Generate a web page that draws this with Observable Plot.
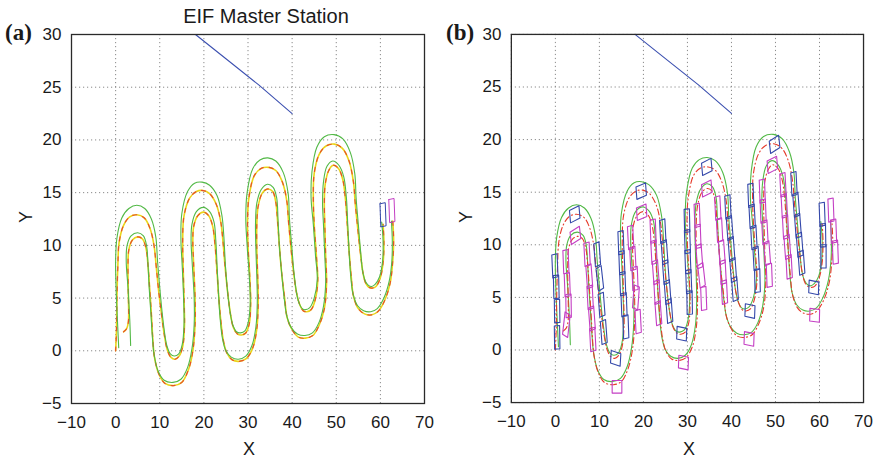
<!DOCTYPE html>
<html><head><meta charset="utf-8">
<script src="https://cdn.jsdelivr.net/npm/d3@7"></script>
<script src="https://cdn.jsdelivr.net/npm/@observablehq/plot@0.6"></script>
<style>
body{margin:0;background:#fff;}
#wrap{position:relative;width:879px;height:461px;overflow:hidden;font-family:"Liberation Sans",Arial,Helvetica,sans-serif;color:#1a1a1a;}
.panel{position:absolute;top:0;}
.txt{position:absolute;white-space:nowrap;line-height:1;}
.tag{font-family:"Liberation Serif","Times New Roman",serif;font-weight:bold;font-size:23px;}
</style></head><body><div id="wrap"></div>
<script>
// ---- tick values ----
const xTicks = [-10, 0, 10, 20, 30, 40, 50, 60, 70];
const yTicks = [-5, 0, 5, 10, 15, 20, 25, 30];

// ---- master station trajectory ----
const masterStation = [[18.1,30],[25,27.7],[32.5,25.2],[40,22.5]];

// ---- reference (desired) paths, green ----
const refPathA = [[0.7,0.3],[0.4,3],[0.1,6],[0,8.5],[0.3,10.7],[1.4,12.6],[3,13.5],[4.8,13.8],[6.6,13.5],[8.1,12.5],[9.1,10.8],[9.5,8.5],[10,6],[10.5,3.8],[11,2],[11.6,0.5],[12.4,-0.3],[13.3,-0.5],[14.3,-0.3],[15.1,0.6],[15.5,2.5],[15.4,5],[15.1,8],[14.8,10.5],[15,13],[16.3,15.1],[17.9,15.9],[19.6,16.0],[21.3,15.7],[23,14.7],[24.1,12.8],[24.5,11],[24.9,8],[25.4,5.5],[26,3.5],[26.6,2.4],[27.4,1.8],[28.3,1.7],[29.3,1.9],[30.1,2.8],[30.5,4.5],[30.3,7],[29.8,10],[29.5,12.5],[29.8,15],[31.1,17.3],[32.7,18.1],[34.5,18.3],[36.3,18],[38,16.9],[39.1,14.9],[39.4,12.5],[39.9,10],[40.4,7.5],[41,5.5],[41.6,4.5],[42.3,4],[43,3.9],[44,4.1],[45,5],[45.7,6.8],[45.3,9],[44.8,12],[44.3,14.5],[44.5,17],[45.6,19.3],[47.3,20.3],[49.5,20.5],[51.5,20.1],[53.2,18.8],[54.2,16.8],[54.5,14.5],[55,12],[55.5,9.5],[56,7.5],[56.6,6.6],[57.3,6.2],[58,6.1],[58.8,6.3],[59.8,7],[60.5,8.5],[60.6,10.5],[60.3,12.2]];
const refPathB = [[3.4,0.5],[3.2,3],[2.8,6],[2.4,8.5],[2.6,10],[3.5,10.9],[5,11.2],[6.3,10.9],[7,10],[7.3,8.5],[7.6,6],[8,3.5],[8.3,1.5],[8.7,-0.3],[9.6,-1.9],[11,-2.8],[13,-3],[14.8,-2.7],[16.3,-1.6],[17.3,0.2],[17.8,2.5],[17.8,5],[17.4,8],[17.1,10.5],[17.3,12],[18.3,13.2],[19.9,13.6],[21.3,13.2],[22.3,12.2],[22.7,10.5],[23,8],[23.3,5.5],[23.7,3],[24.2,1.2],[25,0],[26.2,-0.6],[27.8,-0.8],[29.5,-0.5],[30.9,0.5],[31.8,2.3],[32.1,4.5],[32,7],[31.8,9.5],[31.7,12],[32,14],[33,15.3],[34.4,15.8],[35.7,15.5],[36.5,14.5],[36.8,12.5],[37.1,10],[37.6,7.5],[38.2,5],[38.8,3.3],[39.8,2.2],[41.2,1.6],[42.9,1.45],[44.6,1.7],[46,2.6],[47.1,4.2],[47.6,6.5],[47.4,9],[47.1,12],[46.9,14],[47.1,16],[47.9,17.5],[49.2,18],[50.6,17.6],[51.7,16.5],[52.3,14.5],[52.6,12],[52.9,9.5],[53.3,7],[53.8,5.4],[54.8,4.3],[56.2,3.8],[57.8,3.7],[59.3,4],[60.8,5],[62,6.6],[62.6,8.5],[62.7,10.5],[62.5,12.3]];

// ---- actual trajectories (yellow / red dashed) ----
const actualA = [[0,0],[0.2,2],[0.3,5],[0.5,8],[0.8,10.3],[1.8,11.9],[3.2,12.7],[4.8,12.9],[6.5,12.6],[7.8,11.6],[8.7,10],[9.2,8],[9.8,5.5],[10.4,3.5],[11,1.6],[11.7,0.1],[12.5,-0.6],[13.5,-0.8],[14.4,-0.5],[15.2,0.4],[15.6,2.3],[15.5,5],[15.3,8],[15.2,10.5],[15.5,12.8],[16.8,14.5],[18.3,15.1],[19.8,15.2],[21.3,14.9],[22.8,13.9],[23.8,12.3],[24.3,10.5],[24.8,8],[25.4,5.5],[26.1,3.3],[26.7,2.2],[27.6,1.6],[28.5,1.5],[29.5,1.7],[30.3,2.6],[30.6,4.5],[30.4,7],[30,10],[29.9,12.5],[30.2,14.5],[31.4,16.6],[33,17.3],[34.7,17.4],[36.3,17.1],[37.8,16],[38.8,14.2],[39.2,12.2],[39.8,9.5],[40.4,7.2],[41.1,5.3],[41.8,4.3],[42.5,3.8],[43.3,3.7],[44.3,3.9],[45.2,4.8],[45.8,6.6],[45.5,9],[45,12],[44.8,14.5],[45,16.8],[46.1,18.6],[47.6,19.4],[49.6,19.6],[51.4,19.2],[52.9,18],[53.9,16],[54.3,14],[54.9,11.5],[55.5,9.2],[56.1,7.3],[56.7,6.4],[57.5,6],[58.2,5.95],[59,6.1],[59.9,6.8],[60.6,8.3],[60.8,10.3],[60.6,12]];
const actualB = [[1.8,1.8],[2.5,2.1],[2.9,2.8],[2.9,5],[2.8,8],[3,9.6],[3.8,10.5],[5,10.8],[6.1,10.6],[6.9,9.7],[7.3,8.3],[7.7,6],[8.1,3.5],[8.4,1.3],[8.8,-0.6],[9.8,-2.2],[11.2,-3.1],[13.2,-3.3],[15,-3],[16.5,-1.8],[17.5,0],[18,2.5],[18,5],[17.7,8],[17.5,10.5],[17.7,11.8],[18.6,12.8],[19.9,13.15],[21.1,12.8],[22,11.8],[22.5,10.2],[22.9,8],[23.3,5.5],[23.8,3],[24.4,1],[25.2,-0.2],[26.4,-0.85],[27.9,-1],[29.6,-0.75],[31.1,0.3],[32,2.1],[32.3,4.5],[32.2,7],[32,9.5],[32,12],[32.3,13.7],[33.3,15],[34.5,15.35],[35.6,15.1],[36.3,14.1],[36.7,12.3],[37.1,10],[37.6,7.5],[38.3,5],[38.9,3.1],[40,2],[41.4,1.3],[43,1.2],[44.7,1.45],[46.1,2.4],[47.3,4],[47.8,6.4],[47.6,9],[47.4,12],[47.3,14],[47.5,15.8],[48.3,17.1],[49.3,17.6],[50.5,17.3],[51.5,16.2],[52.1,14.3],[52.5,12],[52.9,9.5],[53.4,7],[53.9,5.2],[55,4],[56.4,3.5],[57.9,3.4],[59.4,3.7],[60.9,4.7],[62.2,6.4],[62.8,8.5],[63,10.5],[62.8,12.3]];

// ---- vehicle footprints: [x, y, heading deg] ----
const vehicleA = [[0.4,1.2,92],[0.4,3.7,92],[0.2,6.0,93],[-0.1,8.0,96],[4.4,12.9,12],[9.5,9.1,100],[10.1,6.8,105],[10.5,4.3,100],[11.0,1.7,100],[13.7,-0.8,-8],[16.0,2.2,95],[15.6,4.3,95],[15.3,6.3,95],[15.1,8.3,95],[14.9,10.2,95],[19.5,15.1,10],[24.4,11.3,97],[24.8,9.3,100],[25.1,7.4,100],[25.5,5.5,100],[25.9,3.7,100],[28.7,1.55,-5],[30.5,4.5,92],[30.3,6.5,95],[30.1,8.4,95],[30.0,10.3,95],[29.9,12.3,93],[34.4,17.4,12],[39.2,13.6,97],[39.6,11.6,100],[40.0,9.6,100],[40.4,7.6,100],[40.8,5.8,100],[44.2,3.7,-5],[45.9,6.6,93],[45.6,8.7,97],[45.1,10.7,97],[44.7,12.7,97],[44.4,14.7,95],[49.8,19.55,15],[54.2,15.8,97],[54.7,13.8,100],[55.1,11.8,100],[55.5,10.0,100],[55.9,8.3,100],[58.7,5.95,-5],[60.9,8.9,90],[60.8,10.9,92],[60.6,12.9,95]];
const vehicleB = [[2.5,2.4,75],[3.0,4.2,92],[2.7,6.2,95],[2.4,8.4,95],[4.55,10.9,15],[7.2,9.1,97],[7.7,7.0,100],[7.9,5.0,97],[8.3,3.0,100],[8.5,1.0,97],[14.0,-3.5,0],[18.8,2.7,97],[18.3,5.0,80],[18.1,6.8,95],[17.6,8.7,97],[17.1,10.7,97],[19.6,13.1,10],[22.2,11.3,95],[22.4,9.3,97],[22.8,7.4,100],[23.1,5.5,97],[23.4,3.5,100],[29.1,-1.2,-5],[33.7,4.9,95],[33.2,7.1,105],[32.7,8.9,100],[32.4,10.8,95],[32.2,12.8,95],[34.4,15.35,12],[36.9,13.5,97],[37.3,11.4,97],[37.8,9.3,100],[38.1,7.4,97],[38.4,5.5,97],[44.0,1.05,-5],[48.6,7.1,95],[48.1,9.2,100],[47.6,11.2,97],[47.2,13.2,95],[47.0,15.1,95],[49.3,17.6,12],[51.7,15.7,97],[52.0,13.7,97],[52.3,11.7,97],[52.7,9.8,100],[53.1,7.9,97],[58.9,3.3,-3],[63.6,9.3,95],[63.2,11.3,95],[62.6,13.3,95]];

// ---- styling ----
const VL = 2.2, VW = 1.2;
const C = {green:"#52b946", yellow:"#ead51a", red:"#e63a2a", blue:"#3448aa", line:"#3c50b0", mag:"#c43fc4", grid:"#8a8a8a"};
const fmt = d => d < 0 ? "\u2212" + Math.abs(d) : String(d);

function outlines(list) {
  const rows = [];
  list.forEach((r, i) => {
    const [cx, cy, deg] = r, a = deg * Math.PI / 180;
    const ux = Math.cos(a) * VL / 2, uy = Math.sin(a) * VL / 2;
    const vx = -Math.sin(a) * VW / 2, vy = Math.cos(a) * VW / 2;
    const p = [[cx+ux+vx, cy+uy+vy],[cx+ux-vx, cy+uy-vy],[cx-ux-vx, cy-uy-vy],[cx-ux+vx, cy-uy+vy]];
    p.push(p[0]);
    p.forEach(q => rows.push({x: q[0], y: q[1], id: i}));
  });
  return rows;
}
const X = d => d[0], Y = d => d[1];

function makePlot(marks) {
  return Plot.plot({
    width: 440, height: 461,
    marginLeft: 71, marginRight: 16, marginTop: 34, marginBottom: 58,
    style: {fontFamily: '"Liberation Sans", Arial, sans-serif', fontSize: "17px", color: "#1a1a1a", background: "transparent", overflow: "visible"},
    x: {domain: [-10, 70], ticks: xTicks, tickSize: 0, tickPadding: 12, tickFormat: fmt, label: null},
    y: {domain: [-5, 30], ticks: yTicks, tickSize: 0, tickPadding: 10, tickFormat: fmt, label: null},
    marks: [
      Plot.ruleX(xTicks, {stroke: C.grid, strokeWidth: 1, strokeDasharray: "1.2,2.8"}),
      Plot.ruleY(yTicks, {stroke: C.grid, strokeWidth: 1, strokeDasharray: "1.2,2.8"}),
      ...marks,
      Plot.frame({stroke: "#2a2a2a", strokeWidth: 1.3})
    ]
  });
}

const curve = "catmull-rom";
const plotA = makePlot([
  Plot.line(actualA, {x: X, y: Y, stroke: C.yellow, strokeWidth: 1.6, curve}),
  Plot.line(actualB, {x: X, y: Y, stroke: C.yellow, strokeWidth: 1.6, curve}),
  Plot.line(actualA, {x: X, y: Y, stroke: C.red, strokeWidth: 1.2, strokeDasharray: "4,6", strokeOpacity: 0.85, curve}),
  Plot.line(actualB, {x: X, y: Y, stroke: C.red, strokeWidth: 1.2, strokeDasharray: "4,6", strokeOpacity: 0.85, curve}),
  Plot.line(refPathA, {x: X, y: Y, stroke: C.green, strokeWidth: 1.1, curve}),
  Plot.line(refPathB, {x: X, y: Y, stroke: C.green, strokeWidth: 1.1, curve}),
  Plot.line(outlines(vehicleA.slice(-1)), {x: "x", y: "y", z: "id", stroke: C.blue, strokeWidth: 1}),
  Plot.line(outlines(vehicleB.slice(-1)), {x: "x", y: "y", z: "id", stroke: C.mag, strokeWidth: 1}),
  Plot.line(masterStation, {x: X, y: Y, stroke: C.line, strokeWidth: 1.1})
]);
const plotB = makePlot([
  Plot.line(refPathA, {x: X, y: Y, stroke: C.green, strokeWidth: 1.1, curve}),
  Plot.line(refPathB, {x: X, y: Y, stroke: C.green, strokeWidth: 1.1, curve}),
  Plot.line(actualA, {x: X, y: Y, stroke: C.red, strokeWidth: 1.1, strokeDasharray: "6,3,1,3", curve}),
  Plot.line(actualB, {x: X, y: Y, stroke: C.red, strokeWidth: 1.1, strokeDasharray: "6,3,1,3", curve}),
  Plot.line(outlines(vehicleA), {x: "x", y: "y", z: "id", stroke: C.blue, strokeWidth: 1.1}),
  Plot.line(outlines(vehicleB), {x: "x", y: "y", z: "id", stroke: C.mag, strokeWidth: 1.1}),
  Plot.line(masterStation, {x: X, y: Y, stroke: C.line, strokeWidth: 1.1})
]);

const wrap = document.getElementById("wrap");
function place(el, left) { const d = document.createElement("div"); d.className = "panel"; d.style.left = left + "px"; d.appendChild(el); wrap.appendChild(d); }
place(plotA, 0);
place(plotB, 440);

function label(text, css, cls) {
  const d = document.createElement("div");
  d.className = "txt" + (cls ? " " + cls : "");
  d.textContent = text;
  Object.assign(d.style, css);
  wrap.appendChild(d);
  return d;
}
label("EIF Master Station", {left: "166px", width: "200px", textAlign: "center", top: "6px", fontSize: "20px"});
label("(a)", {left: "5px", top: "21px"}, "tag");
label("(b)", {left: "446px", top: "21px"}, "tag");
label("X", {left: "229px", width: "40px", textAlign: "center", top: "440px", fontSize: "18px"});
label("X", {left: "669px", width: "40px", textAlign: "center", top: "440px", fontSize: "18px"});
label("Y", {left: "6px", width: "40px", textAlign: "center", top: "208px", fontSize: "18px", transform: "rotate(-90deg)"});
label("Y", {left: "446px", width: "40px", textAlign: "center", top: "208px", fontSize: "18px", transform: "rotate(-90deg)"});
</script></body></html>
